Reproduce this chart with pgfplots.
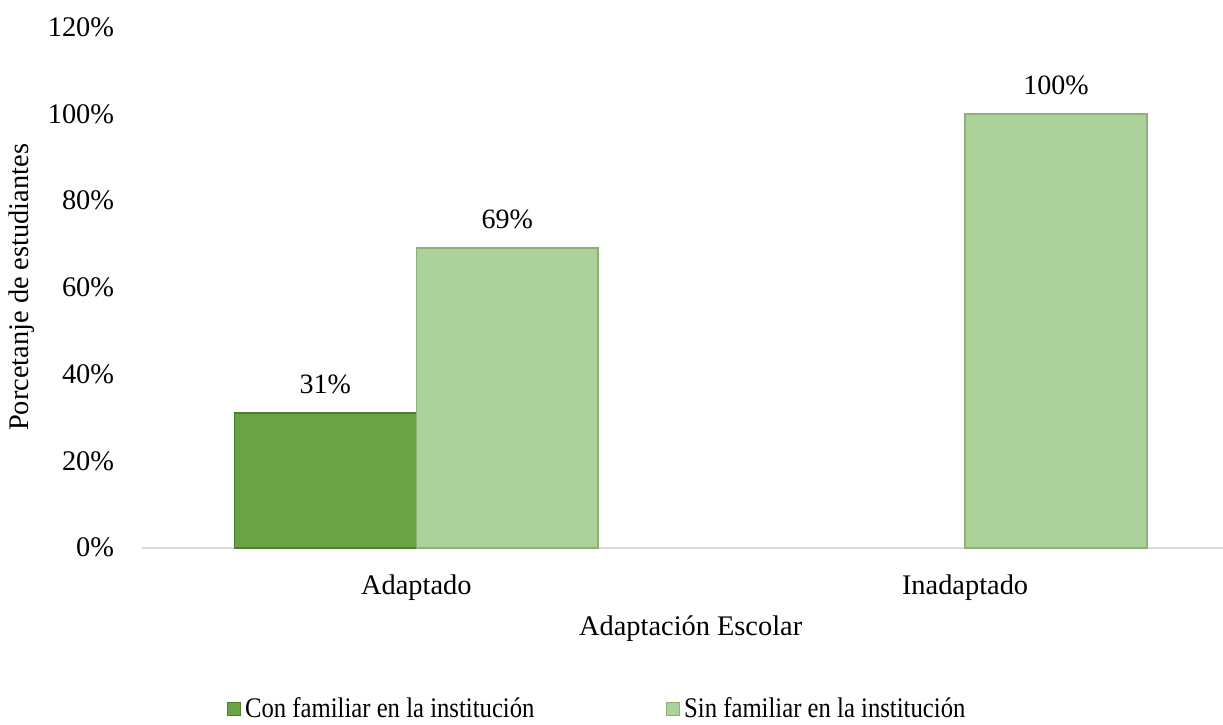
\documentclass[border=0pt]{standalone}
\usepackage{fontspec}
\setmainfont{Liberation Serif}
\usepackage{graphicx}
\usepackage{pgfplots}
\pgfplotsset{compat=1.18}
\definecolor{cDark}{HTML}{6AA442}
\definecolor{cDarkEdge}{HTML}{4F7E30}
\definecolor{cLight}{HTML}{ADD19A}
\definecolor{cLightEdge}{HTML}{8CB078}
\definecolor{cAxis}{HTML}{D9D9D9}
\newcommand{\axfont}{\fontsize{14.2}{16}\selectfont}
% legend text in the reference is as tall as the axis text but narrower
\newcommand{\legtext}[1]{\scalebox{0.87}[1]{#1}}
\begin{document}
\axfont
\begin{tikzpicture}
\begin{axis}[
  scale only axis,
  width=540.8pt, height=260.5pt,
  xmin=-0.5, xmax=1.47,
  ymin=0, ymax=120,
  ybar,
  axis x line=bottom, axis y line=left,
  x axis line style={cAxis, line width=0.9pt, -},
  y axis line style={draw=none},
  major tick length=0pt,
  xtick={0,1}, xticklabels={Adaptado, Inadaptado},
  ytick={0,20,40,60,80,100,120},
  yticklabels={0\%,20\%,40\%,60\%,80\%,100\%,120\%},
  yticklabel style={xshift=-9pt},
  xticklabel style={yshift=-8.5pt},
  tick label style={font=\axfont},
  clip=false,
  nodes near coords={\pgfmathprintnumber[assume math mode=true]{\pgfplotspointmeta}\%},
  every node near coord/.append style={font=\fontsize{14}{16}\selectfont, anchor=south, yshift=4.5pt},
  legend columns=2,
  legend style={at={(rel axis cs:0.4222,-0.311)}, anchor=center, draw=none, fill=none,
                font=\axfont,
                /tikz/every even column/.append style={column sep=64pt}},
  legend image code/.code={\draw[#1, line width=0.4pt] (0pt,-3pt) rectangle (6.5pt,3.5pt);},
]
\addplot[fill=cDark, draw=cDarkEdge, line width=0.8pt, bar width=91pt, bar shift=-45.5pt]
  coordinates {(0,31)};
\addlegendentry{\legtext{Con familiar en la institución}}
\addplot[fill=cLight, draw=cLightEdge, line width=0.8pt, bar width=91pt, bar shift=45.5pt]
  coordinates {(0,69) (1,100)};
\addlegendentry{\legtext{Sin familiar en la institución}}
\coordinate (bl) at (rel axis cs:0,0);
\coordinate (tr) at (rel axis cs:1,1);
\coordinate (yl) at (rel axis cs:0,0.5);
\node[font=\axfont] at (axis cs:0.5,0) [yshift=-40.5pt] {Adaptación Escolar};
\end{axis}
\node[rotate=90, font=\axfont] at ([xshift=-60pt]yl) {Porcetanje de estudiantes};
\pgfresetboundingbox
\path[use as bounding box] ([xshift=-71pt,yshift=-88.5pt]bl) rectangle ([yshift=13.5pt]tr);
\end{tikzpicture}
\end{document}
